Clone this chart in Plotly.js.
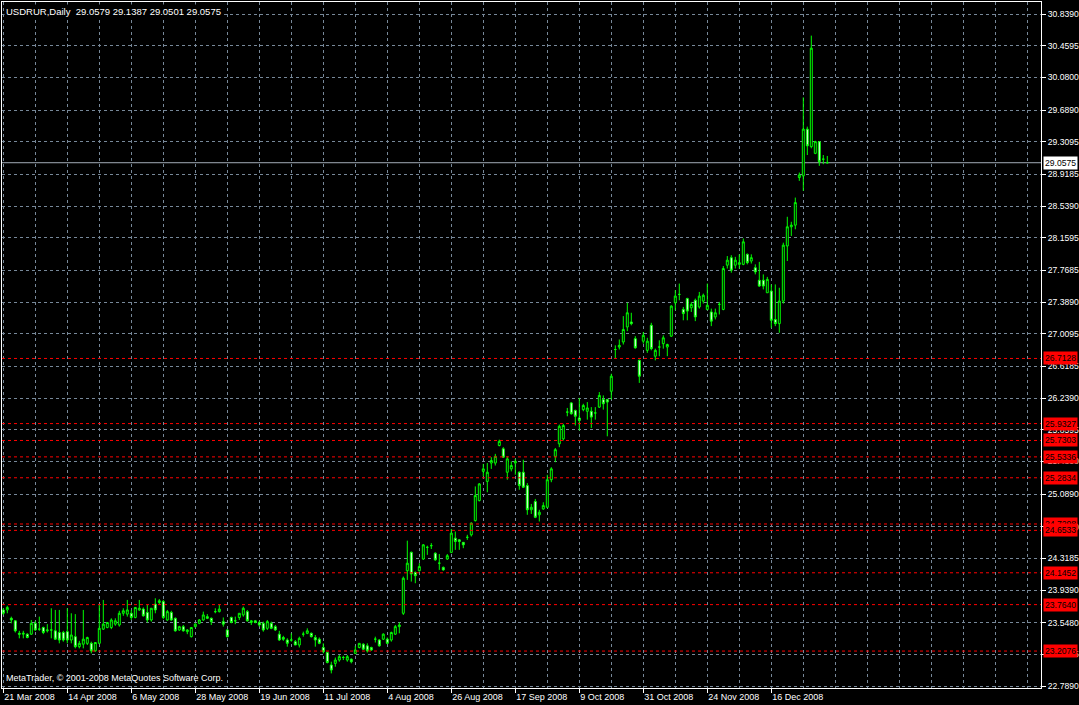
<!DOCTYPE html>
<html><head><meta charset="utf-8">
<script src="https://cdn.plot.ly/plotly-3.0.1.min.js"></script>
<style>html,body{margin:0;padding:0;background:#000;}#chart{width:1079px;height:705px;}</style>
</head><body><div id="chart"></div>
<script>
const symbol = "USDRUR,Daily";
const copyright = "MetaTrader, \u00a9 2001-2008 MetaQuotes Software Corp.";
const dateLabels = ["21 Mar 2008","14 Apr 2008","6 May 2008","28 May 2008","19 Jun 2008","11 Jul 2008","4 Aug 2008","26 Aug 2008","17 Sep 2008","9 Oct 2008","31 Oct 2008","24 Nov 2008","16 Dec 2008"];
const labelBars = [0,16,32,48,64,80,96,112,128,144,160,176,192];
const yTicks = [30.8390,30.4595,30.0800,29.6890,29.3095,28.9185,28.5390,28.1595,27.7685,27.3890,27.0095,26.6185,26.2390,25.8595,25.4800,25.0890,24.6990,24.3185,23.9390,23.5480,23.1685,22.7890];
const levels = [26.7128,25.9327,25.7303,25.5336,25.2834,24.7298,24.6533,24.1452,23.7640,23.2076];
const bidPrice = 29.0575;

const open = [
23.70,23.70,23.60,23.57,23.42,23.41,23.41,23.41,23.54,23.47,
23.49,23.45,23.46,23.45,23.43,23.43,23.44,23.34,23.38,23.26,
23.29,23.30,23.30,23.21,23.30,23.47,23.49,23.49,23.53,23.52,
23.66,23.65,23.66,23.61,23.70,23.71,23.67,23.58,23.77,23.79,
23.80,23.58,23.67,23.60,23.46,23.50,23.44,23.38,23.50,23.54,
23.58,23.62,23.60,23.68,23.68,23.56,23.46,23.61,23.57,23.61,
23.64,23.68,23.55,23.57,23.55,23.54,23.48,23.54,23.50,23.41,
23.37,23.34,23.34,23.32,23.28,23.41,23.42,23.42,23.37,23.35,
23.25,23.19,23.04,23.06,23.10,23.13,23.10,23.11,23.18,23.25,
23.29,23.27,23.25,23.35,23.34,23.35,23.35,23.34,23.41,23.50,
23.66,24.17,24.39,24.15,24.17,24.31,24.45,24.47,24.38,24.26,
24.21,24.31,24.39,24.56,24.54,24.51,24.57,24.60,24.77,25.01,
25.36,25.24,25.46,25.46,25.67,25.63,25.35,25.39,25.46,25.35,
25.35,25.19,24.90,25.00,24.84,24.91,24.93,25.26,25.54,25.69,
25.75,26.07,26.18,26.09,26.00,26.10,26.08,26.08,26.06,26.13,
26.22,26.22,26.32,26.82,26.85,26.91,27.09,27.15,26.95,26.69,
26.92,26.81,27.11,26.74,26.85,26.89,26.85,26.98,27.38,27.48,
27.30,27.43,27.32,27.41,27.33,27.40,27.30,27.27,27.21,27.36,
27.30,27.83,27.92,27.83,27.84,27.84,27.96,27.88,27.80,27.65,
27.65,27.50,27.52,27.18,27.13,27.40,28.06,28.29,28.31,28.88,
28.90,29.46,29.25,29.17,29.31,29.10,29.0579];
const high = [
23.72,23.75,23.62,23.58,23.45,23.45,23.42,23.58,23.57,23.62,
23.50,23.53,23.72,23.70,23.70,23.45,23.72,23.66,23.65,23.33,
23.70,23.38,23.32,23.31,23.76,23.82,23.55,23.60,23.60,23.69,
23.72,23.82,23.70,23.73,23.82,23.73,23.76,23.72,23.84,23.83,
23.82,23.70,23.69,23.61,23.51,23.52,23.47,23.49,23.54,23.59,
23.68,23.65,23.61,23.72,23.76,23.61,23.47,23.62,23.62,23.66,
23.74,23.70,23.58,23.58,23.57,23.56,23.58,23.56,23.52,23.45,
23.39,23.36,23.42,23.34,23.38,23.44,23.48,23.43,23.40,23.37,
23.30,23.20,23.08,23.13,23.16,23.15,23.16,23.12,23.27,23.30,
23.30,23.30,23.26,23.38,23.35,23.42,23.37,23.44,23.52,23.55,
24.10,24.53,24.40,24.16,24.26,24.49,24.47,24.50,24.39,24.37,
24.22,24.37,24.67,24.64,24.55,24.51,24.60,24.75,25.18,25.22,
25.45,25.46,25.53,25.57,25.74,25.65,25.54,25.48,25.51,25.36,
25.50,25.22,24.97,25.03,24.90,24.99,25.32,25.41,25.64,25.92,
25.93,26.12,26.19,26.10,26.24,26.17,26.19,26.13,26.13,26.31,
26.27,26.23,26.53,26.87,26.94,27.22,27.38,27.26,26.98,26.70,
27.03,26.96,27.14,26.83,26.93,26.99,26.89,27.35,27.53,27.61,
27.33,27.44,27.39,27.43,27.51,27.49,27.61,27.31,27.31,27.39,
27.82,27.94,27.95,27.93,27.96,28.15,27.97,27.96,27.84,27.87,
27.72,27.69,27.60,27.60,27.56,28.10,28.41,28.35,28.64,28.94,
29.84,29.49,30.58,29.32,29.31,29.15,29.1387];
const low = [
23.64,23.66,23.54,23.43,23.36,23.36,23.36,23.40,23.45,23.45,
23.41,23.43,23.36,23.34,23.30,23.32,23.30,23.30,23.24,23.24,
23.24,23.28,23.18,23.20,23.29,23.46,23.48,23.47,23.51,23.50,
23.63,23.62,23.58,23.60,23.69,23.62,23.55,23.56,23.66,23.77,
23.59,23.57,23.57,23.44,23.45,23.44,23.41,23.37,23.49,23.53,
23.57,23.59,23.52,23.66,23.67,23.50,23.37,23.54,23.53,23.58,
23.62,23.56,23.52,23.54,23.50,23.44,23.46,23.47,23.45,23.33,
23.33,23.26,23.32,23.28,23.25,23.38,23.41,23.37,23.26,23.29,
23.18,23.06,22.94,23.02,23.08,23.10,23.08,23.06,23.17,23.24,
23.22,23.19,23.21,23.31,23.26,23.34,23.29,23.32,23.40,23.42,
23.64,24.06,24.04,24.02,24.16,24.30,24.36,24.43,24.29,24.18,
24.17,24.30,24.38,24.42,24.42,24.44,24.54,24.58,24.76,25.00,
25.30,25.11,25.39,25.43,25.66,25.52,25.26,25.36,25.32,25.14,
25.16,24.84,24.85,24.80,24.76,24.90,24.92,25.23,25.47,25.65,
25.73,26.02,26.04,25.91,25.85,26.08,25.98,25.88,25.98,26.12,
26.10,25.78,26.22,26.71,26.82,26.88,27.04,27.11,26.83,26.42,
26.89,26.78,26.81,26.69,26.74,26.83,26.74,26.97,27.29,27.41,
27.17,27.17,27.27,27.16,27.31,27.37,27.29,27.10,27.18,27.24,
27.29,27.79,27.74,27.79,27.79,27.83,27.84,27.85,27.72,27.57,
27.54,27.50,27.08,27.10,27.02,27.37,27.88,28.18,28.26,28.84,
28.72,29.15,29.23,29.16,29.02,29.04,29.0501];
const close = [
23.66,23.73,23.58,23.45,23.41,23.42,23.37,23.54,23.46,23.47,
23.43,23.46,23.46,23.35,23.34,23.34,23.34,23.40,23.26,23.30,
23.35,23.37,23.21,23.31,23.48,23.53,23.55,23.58,23.57,23.66,
23.69,23.70,23.61,23.73,23.72,23.63,23.58,23.72,23.70,23.81,
23.61,23.68,23.58,23.45,23.50,23.45,23.46,23.49,23.53,23.58,
23.64,23.60,23.56,23.68,23.71,23.53,23.38,23.55,23.57,23.66,
23.72,23.57,23.57,23.55,23.52,23.46,23.56,23.48,23.46,23.34,
23.35,23.30,23.34,23.28,23.36,23.41,23.45,23.38,23.34,23.30,
23.20,23.07,22.98,23.10,23.14,23.13,23.14,23.08,23.22,23.30,
23.23,23.21,23.22,23.35,23.27,23.41,23.30,23.43,23.50,23.52,
24.08,24.26,24.13,24.11,24.22,24.48,24.45,24.47,24.30,24.26,
24.18,24.35,24.62,24.52,24.52,24.48,24.57,24.74,25.07,25.21,
25.39,25.35,25.49,25.54,25.72,25.53,25.51,25.43,25.48,25.19,
25.17,24.90,24.93,24.81,24.87,24.95,25.26,25.39,25.62,25.90,
25.91,26.07,26.05,26.02,25.97,26.15,26.12,26.01,26.06,26.27,
26.17,26.19,26.50,26.82,26.87,27.06,27.26,27.13,26.84,26.50,
26.99,26.92,26.83,26.81,26.85,26.96,26.88,27.34,27.46,27.48,
27.25,27.28,27.36,27.21,27.46,27.47,27.35,27.16,27.26,27.36,
27.79,27.89,27.77,27.89,27.86,28.11,27.86,27.92,27.75,27.58,
27.58,27.66,27.17,27.13,27.40,28.07,28.29,28.31,28.58,28.91,
29.46,29.26,30.43,29.31,29.07,29.10,29.0575];

const barIndex = close.map((_, i) => i);
const last = close.length - 1;

const FONT = "'Liberation Sans', Arial, sans-serif";
const white = '#ffffff';
const grid = '#778899';
const AXFS = 8.6;

const trace = {
  type: 'candlestick', x: barIndex, open: open, high: high, low: low, close: close,
  increasing: {line: {color: '#00ff00', width: 1}, fillcolor: '#000000'},
  decreasing: {line: {color: '#00ff00', width: 1}, fillcolor: '#ffffff'},
  whiskerwidth: 0, hoverinfo: 'skip', showlegend: false
};

const shapes = levels.map(v => ({
  type: 'line', xref: 'paper', x0: 0, x1: 1, yref: 'y', y0: v, y1: v,
  line: {color: '#ff0000', width: 1, dash: '3px,3px'}, layer: 'above'
}));
shapes.push({type: 'line', xref: 'paper', x0: 0, x1: 1, yref: 'y', y0: bidPrice, y1: bidPrice,
  line: {color: '#a3acb8', width: 1}, layer: 'below'});

const labelFont = {family: FONT, size: AXFS, color: '#000000'};
const annotations = levels.map(v => ({
  xref: 'paper', x: 1, xanchor: 'left', xshift: 2, yref: 'y', y: v, yanchor: 'middle',
  text: v.toFixed(4), showarrow: false, bgcolor: '#ff0000', borderpad: 1,
  font: labelFont
}));
annotations.push({
  xref: 'paper', x: 1, xanchor: 'left', xshift: 2, yref: 'y', y: bidPrice, yanchor: 'middle',
  text: bidPrice.toFixed(4), showarrow: false, bgcolor: '#ffffff', borderpad: 1,
  font: labelFont
});
annotations.push({
  xref: 'paper', x: 0, xanchor: 'left', xshift: 2, yref: 'paper', y: 1, yanchor: 'top', yshift: -2,
  text: symbol + '\u00a0\u00a0' + [open[last], high[last], low[last], close[last]].map(v => v.toFixed(4)).join(' '),
  showarrow: false, bgcolor: '#000000', borderpad: 1, font: {family: FONT, size: 9.5, color: white}
});
annotations.push({
  xref: 'paper', x: 0, xanchor: 'left', xshift: 2, yref: 'paper', y: 0, yanchor: 'bottom', yshift: 3,
  text: copyright, showarrow: false, font: {family: FONT, size: 9, color: white}
});

const layout = {
  width: 1079, height: 705,
  margin: {l: 2, r: 38, t: 2, b: 17, pad: 0},
  paper_bgcolor: '#000000', plot_bgcolor: '#000000',
  font: {family: FONT, size: 9, color: white},
  showlegend: false,
  xaxis: {
    range: [-0.325, 259.425], tickmode: 'array', tickvals: labelBars, ticktext: dateLabels,
    ticks: 'outside', ticklen: 4, tickcolor: white, tickwidth: 1,
    tickangle: 0, ticklabelposition: 'outside right', ticklabelstandoff: 0,
    showline: true, linecolor: white, linewidth: 1, mirror: true,
    showgrid: true, gridcolor: grid, griddash: '3px,3px', gridwidth: 1,
    minor: {tickmode: 'linear', tick0: 0, dtick: 8, showgrid: true, gridcolor: grid, griddash: '3px,3px', gridwidth: 1, ticks: ''},
    zeroline: false, rangeslider: {visible: false}, fixedrange: true,
    tickfont: {family: FONT, size: 9, color: white}
  },
  yaxis: {
    side: 'right', range: [22.765, 30.983], tickmode: 'array', tickvals: yTicks,
    ticktext: yTicks.map(v => v.toFixed(4)),
    ticks: 'outside', ticklen: 4, tickcolor: white, tickwidth: 1, ticklabelstandoff: 0,
    showline: true, linecolor: white, linewidth: 1, mirror: true,
    showgrid: true, gridcolor: grid, griddash: '3px,3px', gridwidth: 1,
    zeroline: false, fixedrange: true,
    tickfont: {family: FONT, size: AXFS, color: white}
  },
  shapes: shapes,
  annotations: annotations
};

Plotly.newPlot('chart', [trace], layout, {staticPlot: true, displayModeBar: false});
</script>
</body></html>
